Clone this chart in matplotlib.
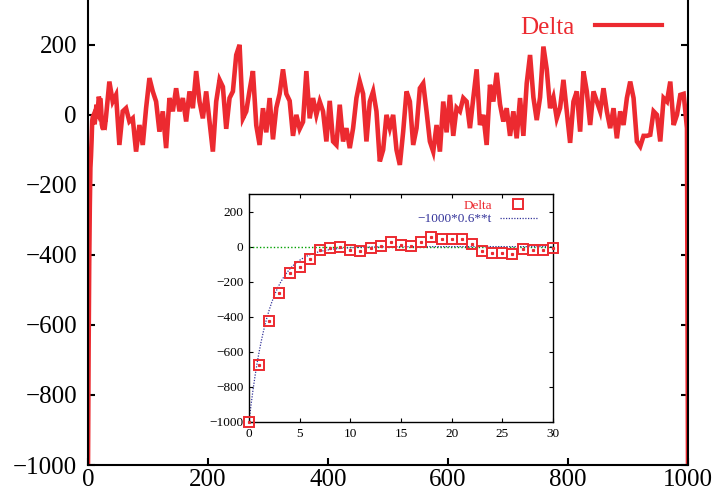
import numpy as np
import matplotlib
matplotlib.use("Agg")
import matplotlib.pyplot as plt

plt.rcParams['font.family'] = ['Liberation Serif', 'DejaVu Serif']

# first 31 steps (also shown in the inset)
t_head = list(range(31))
delta_head = [-1000, -676, -426, -262, -151, -117, -72, -17, -6, -2,
              -17, -27, -10, 4, 29, 10, 6, 29, 52, 45,
              41, 41, 14, -27, -35, -35, -43, -16, -17, -21, -6]

# values, t = 35.6 ... 998.3
delta_trace = [
    95, 38, 57, -86, 10, 19, -19, -10, -105, -29,
    -86, 19, 105, 67, 38, -48, 10, -95, 48, 10,
    76, 10, 48, -19, 67, 19, 125, 38, -10, 67,
    -20, -105, 38, 100, 80, -40, 48, 67, 171, 200,
    -10, 10, 70, 125, -30, -86, 19, -50, 48, -70,
    20, 60, 130, 60, 40, -60, 0, -40, -20, 125,
    -10, 48, 0, 38, 10, -76,
    40, -76, -86, 29, -76, -38, -95, -38, 48, 95,
    60, -76, 38, 67, 10, -133, -100, 0, -38, 0,
    -100, -143, -48, 67, 38, -86, -38, 76, 90, 10,
    -76, -105, -29, -105, 38, -50,
    57, -60, 20, 10, 48, 38, -38, 48, 130, -29,
    0, -86, 86, 38, 120, 30, -19, 19, -60, 10,
    -67, 48, -60, 90, 171, 50, -15, 50, 195, 130,
    19, 50, -10, 20, 100, 10,
    -80, 38, 67, -48, 124, 67, -29, 67, 38, 10,
    76, 10, -38, 19, -67, 10, -29, 48, 95, 48,
    -76, -90, -60, -60, -57, 10, 0, -76, 48, 38,
    95, -29, 0, 57, 60, -38,
]
t_trace = np.linspace(35.6, 998.3, len(delta_trace))

t_tail = [1000]
delta_tail = [-1000]

# fitted curve shown in the inset
fit_amp = -1000
fit_base = 0.6

red = '#ec2a30'

t_all = np.concatenate([t_head, t_trace, t_tail])
d_all = np.concatenate([delta_head, delta_trace, delta_tail])

fig = plt.figure(figsize=(7.16, 4.96), dpi=100)
ax = fig.add_axes([88 / 716, 31 / 496, 600 / 716, 465 / 496])
ax.plot(t_all, d_all, color=red, lw=3.3, label='Delta', solid_joinstyle='miter')
ax.set_xlim(0, 1000)
ax.set_ylim(-1000, 328)
ax.set_xticks(range(0, 1001, 200))
ax.set_yticks(range(-1000, 201, 200))
ax.tick_params(direction='in', length=5, width=1.5, labelsize=18,
               right=True, top=False)
ax.tick_params(axis='y', pad=8)
ax.tick_params(axis='x', pad=3)
ax.spines['top'].set_visible(False)
for s in ['left', 'right', 'bottom']:
    ax.spines[s].set_linewidth(1.5)
leg = ax.legend(loc='upper right', bbox_to_anchor=(0.957, 0.965), frameon=False,
                markerfirst=False, fontsize=18, handlelength=2.7,
                handletextpad=0.8, borderpad=0, borderaxespad=0,
                labelcolor='linecolor')
for h in leg.get_lines():
    h.set_linewidth(3)

# inset
ins = fig.add_axes([249 / 716, 74 / 496, 304 / 716, 228 / 496])
ins.axhline(0, color='#00a000', lw=1.0, ls=(0, (1, 1.5)))
t_fit = np.linspace(0, 30, 300)
ins.plot(t_fit, fit_amp * fit_base ** t_fit, color='#34349a', lw=0.9,
         ls=(0, (1, 1.2)), label='\u22121000*0.6**t')
ins.plot(t_head, delta_head, ls='none', marker='s', ms=6.5, mfc='none',
         mec=red, mew=1.4, label='Delta', clip_on=False, zorder=3)
ins.plot(t_head, delta_head, ls='none', marker='s', ms=1.3, color=red,
         clip_on=False, zorder=3)
ins.set_xlim(0, 30)
ins.set_ylim(-1000, 300)
ins.set_xticks(range(0, 31, 5))
ins.set_yticks(range(-1000, 201, 200))
ins.tick_params(direction='in', length=3, width=0.8, labelsize=9.5,
                top=True, right=True, pad=4)
for s in ins.spines.values():
    s.set_linewidth(1.0)
h, l = ins.get_legend_handles_labels()
ins.legend([h[1], h[0]], [l[1], l[0]], loc='upper right',
           bbox_to_anchor=(0.947, 0.975), frameon=False, markerfirst=False,
           fontsize=9.5, handlelength=2.8, handletextpad=0.6, borderpad=0,
           borderaxespad=0, labelspacing=0.1, labelcolor='linecolor')
leg2 = ins.get_legend()
leg2.get_texts()[0].set_color(red)

fig.savefig('out.png', dpi=100)
